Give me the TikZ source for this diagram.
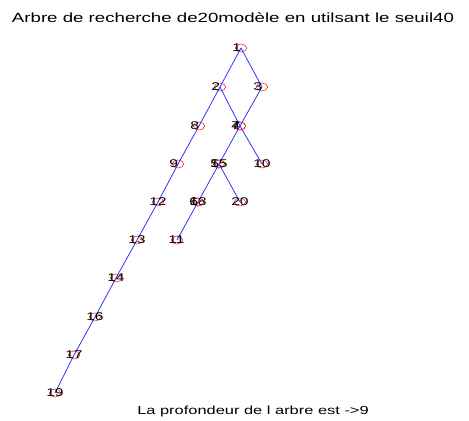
\documentclass[tikz,border=0pt]{standalone}
\usepackage{fontspec}
\usepackage{tikz}
\usetikzlibrary{shapes.geometric}

\newfontfamily\plotfont{Liberation Sans}[FakeStretch=1.4]

\begin{document}
\begin{tikzpicture}[
    x=0.75pt, y=-0.75pt,
    font=\plotfont\fontsize{8.4pt}{10pt}\selectfont,
    pt/.style={draw=red!90!white, ellipse, line width=0.4pt, minimum width=8.5pt, minimum height=6pt, inner sep=0pt},
    lbl/.style={anchor=west, inner sep=0pt, text=black},
    edge/.style={draw=blue!80!white, line width=0.6pt}
  ]
  \useasboundingbox (0,0) rectangle (469,421);

  \node[anchor=base, inner sep=0pt, font=\plotfont\fontsize{10pt}{12pt}\selectfont] (title) at (233,22) {Arbre de recherche de20modèle en utilsant le seuil40};

  \node[pt] (n1) at (241,48) {};
  \node[pt] (n2) at (220,87) {};
  \node[pt] (n3) at (262,87) {};
  \node[pt] (n8) at (199,126) {};
  \node[pt] (n4) at (240,126) {};
  \node[pt] (n7) at (240,126) {};
  \node[pt] (n9) at (178,164) {};
  \node[pt] (n5) at (219,164) {};
  \node[pt] (n15) at (219,164) {};
  \node[pt] (n10) at (262,164) {};
  \node[pt] (n12) at (158,202) {};
  \node[pt] (n6) at (198,202) {};
  \node[pt] (n18) at (198,202) {};
  \node[pt] (n20) at (240,202) {};
  \node[pt] (n13) at (137,240) {};
  \node[pt] (n11) at (177,240) {};
  \node[pt] (n14) at (116,278) {};
  \node[pt] (n16) at (95,317) {};
  \node[pt] (n17) at (74,355) {};
  \node[pt] (n19) at (55,393) {};

  \draw[edge] (n1.center) -- (n2.center);
  \draw[edge] (n1.center) -- (n3.center);
  \draw[edge] (n2.center) -- (n8.center);
  \draw[edge] (n2.center) -- (n4.center);
  \draw[edge] (n3.center) -- (n7.center);
  \draw[edge] (n8.center) -- (n9.center);
  \draw[edge] (n4.center) -- (n10.center);
  \draw[edge] (n7.center) -- (n15.center);
  \draw[edge] (n9.center) -- (n12.center);
  \draw[edge] (n15.center) -- (n18.center);
  \draw[edge] (n15.center) -- (n20.center);
  \draw[edge] (n12.center) -- (n13.center);
  \draw[edge] (n18.center) -- (n11.center);
  \draw[edge] (n13.center) -- (n14.center);
  \draw[edge] (n14.center) -- (n16.center);
  \draw[edge] (n16.center) -- (n17.center);
  \draw[edge] (n17.center) -- (n19.center);

  % labels, left-aligned a little before each point
  \node[lbl] (t1) at (232,48) {1};
  \node[lbl] (t2) at (211,87) {2};
  \node[lbl] (t3) at (253,87) {3};
  \node[lbl] (t8) at (190,126) {8};
  \node[lbl] (t4) at (231,126) {4};
  \node[lbl] (t7) at (231,126) {7};
  \node[lbl] (t9) at (169,164) {9};
  \node[lbl] (t5) at (210,164) {5};
  \node[lbl] (t15) at (210,164) {15};
  \node[lbl] (t10) at (253,164) {10};
  \node[lbl] (t12) at (149,202) {12};
  \node[lbl] (t6) at (189,202) {6};
  \node[lbl] (t18) at (189,202) {18};
  \node[lbl] (t20) at (231,202) {20};
  \node[lbl] (t13) at (128,240) {13};
  \node[lbl] (t11) at (168,240) {11};
  \node[lbl] (t14) at (107,278) {14};
  \node[lbl] (t16) at (86,317) {16};
  \node[lbl] (t17) at (65,355) {17};
  \node[lbl] (t19) at (46,393) {19};

  \node[anchor=base west, inner sep=0pt, font=\plotfont\fontsize{8.8pt}{11pt}\selectfont] (depth) at (137,414) {La profondeur de l arbre est ->9};
\end{tikzpicture}
\end{document}
